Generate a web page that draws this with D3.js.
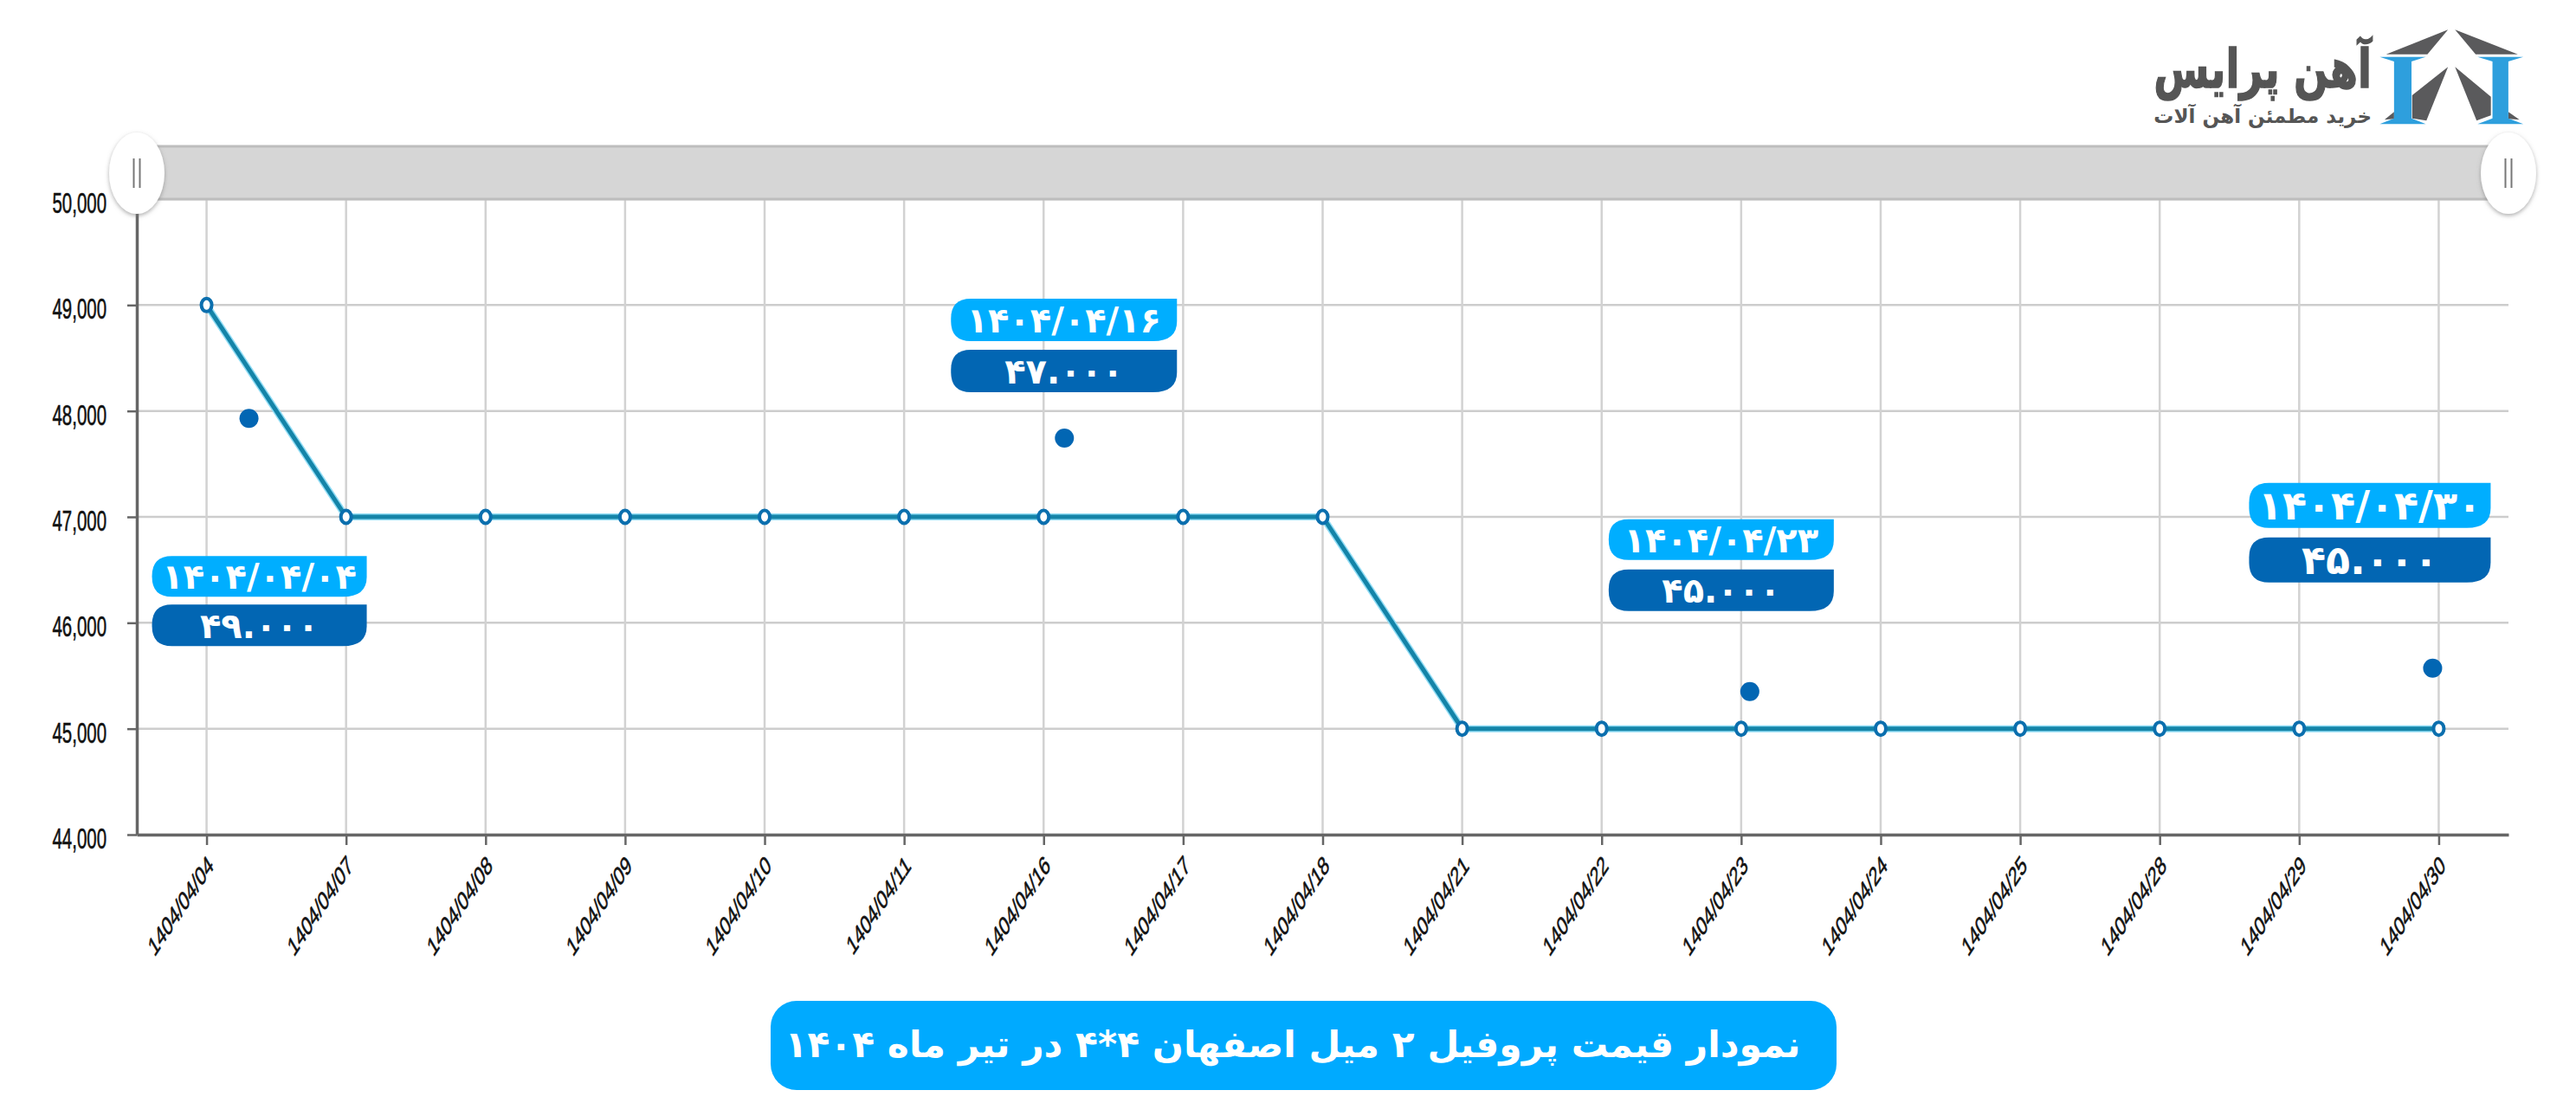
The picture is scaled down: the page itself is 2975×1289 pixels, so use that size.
<!DOCTYPE html>
<html lang="fa">
<head>
<meta charset="utf-8">
<title>Chart</title>
<script src="https://cdn.jsdelivr.net/npm/d3@7"></script>
<style>
html, body { margin: 0; padding: 0; background: #fff; overflow: hidden; }
svg { display: block; }
.tick text { font-family: "Liberation Sans", sans-serif; fill: #111; }
.fa { font-family: "DejaVu Sans", sans-serif; font-weight: bold; }
</style>
</head>
<body>
<div id="chart-area"></div>
<script>
// chart values
const dates = ["1404/04/04", "1404/04/07", "1404/04/08", "1404/04/09", "1404/04/10", "1404/04/11",
    "1404/04/16", "1404/04/17", "1404/04/18", "1404/04/21", "1404/04/22", "1404/04/23",
    "1404/04/24", "1404/04/25", "1404/04/28", "1404/04/29", "1404/04/30"];
const prices = [49000, 47000, 47000, 47000, 47000, 47000, 47000, 47000, 47000,
    45000, 45000, 45000, 45000, 45000, 45000, 45000, 45000];
const yTicks = [44000, 45000, 46000, 47000, 48000, 49000, 50000];

// callouts
const calloutIndex = [0, 6, 11, 16];
const calloutDates = ["۱۴۰۴/۰۴/۰۴", "۱۴۰۴/۰۴/۱۶", "۱۴۰۴/۰۴/۲۳", "۱۴۰۴/۰۴/۳۰"];
const calloutPrices = ["۴۹.۰۰۰", "۴۷.۰۰۰", "۴۵.۰۰۰", "۴۵.۰۰۰"];

const titleText = "نمودار قیمت پروفیل ۲ میل اصفهان ۴*۴ در تیر ماه ۱۴۰۴";
const logoTitle = "آهن پرایس";
const logoSub = "خرید مطمئن آهن آلات";

const W = 2975, H = 1289;
const margin = { left: 158, right: 78, top: 230, bottom: 325 };
const width = W - margin.left - margin.right,
    height = H - margin.top - margin.bottom;
const squeeze = 0.62;   // the axis text in the picture is squashed sideways

const svg = d3.select("#chart-area")
    .append("svg")
    .attr("width", W)
    .attr("height", H);

const g = svg.append("g")
    .attr("transform", "translate(" + margin.left + ", " + margin.top + ")");

const x = d3.scalePoint()
    .domain(dates)
    .range([0, width])
    .padding(0.5);

const y = d3.scaleLinear()
    .domain([44000, 50000])
    .range([height, 0]);

// GRID
g.append("g").selectAll("line")
    .data(yTicks)
    .enter()
    .append("line")
    .attr("x1", 0)
    .attr("x2", width)
    .attr("y1", function (d) { return y(d); })
    .attr("y2", function (d) { return y(d); })
    .attr("stroke", "#cdcdcd")
    .attr("stroke-width", 2.5);

g.append("g").selectAll("line")
    .data(dates)
    .enter()
    .append("line")
    .attr("x1", function (d) { return x(d); })
    .attr("x2", function (d) { return x(d); })
    .attr("y1", 0)
    .attr("y2", height)
    .attr("stroke", "#d2d2d2")
    .attr("stroke-width", 2.5);

// AXES
const yAxisCall = d3.axisLeft(y)
    .tickValues(yTicks)
    .tickSize(11)
    .tickSizeOuter(0)
    .tickFormat(d3.format(","));
const yAxis = g.append("g").call(yAxisCall);
yAxis.selectAll("text")
    .attr("font-size", 33)
    .attr("x", 0)
    .attr("dy", "0.47em")
    .attr("stroke", "#111")
    .attr("stroke-width", 0.6)
    .attr("transform", "translate(-35, 0) scale(" + squeeze + ", 1)");

const xAxisCall = d3.axisBottom(x).tickSize(12).tickSizeOuter(0);
const xAxis = g.append("g")
    .attr("transform", "translate(0, " + height + ")")
    .call(xAxisCall);
xAxis.selectAll("text")
    .attr("font-size", 30.5)
    .attr("x", 0)
    .attr("y", 0)
    .attr("dy", "0.35em")
    .attr("text-anchor", "end")
    .attr("stroke", "#111")
    .attr("stroke-width", 0.7)
    .attr("transform", "translate(4, 30) scale(" + squeeze + ", 1) rotate(-43)");

[yAxis, xAxis].forEach(function (a) {
    a.selectAll("path").attr("stroke", "#666").attr("stroke-width", 3.5);
    a.selectAll("line").attr("stroke", "#666").attr("stroke-width", 2.5);
});

// SLIDER
const defs = svg.append("defs");
const shadow = defs.append("filter").attr("id", "shadow")
    .attr("x", "-30%").attr("y", "-30%").attr("width", "160%").attr("height", "160%");
shadow.append("feDropShadow")
    .attr("dx", 0).attr("dy", 2).attr("stdDeviation", 2.5)
    .attr("flood-color", "#777").attr("flood-opacity", 0.6);

g.append("rect")
    .attr("x", 0)
    .attr("y", -61)
    .attr("width", width)
    .attr("height", 61)
    .attr("fill", "#d6d6d6")
    .attr("stroke", "#bdbdbd")
    .attr("stroke-width", 3);

[0, width].forEach(function (hx) {
    const handle = g.append("g").attr("transform", "translate(" + hx + ", -30)");
    handle.append("ellipse")
        .attr("rx", 32)
        .attr("ry", 47)
        .attr("fill", "#fff")
        .attr("filter", "url(#shadow)");
    [-3.5, 3.5].forEach(function (dx) {
        handle.append("line")
            .attr("x1", dx).attr("x2", dx)
            .attr("y1", -17).attr("y2", 17)
            .attr("stroke", "#777")
            .attr("stroke-width", 2);
    });
});

// LINE
const line = d3.line()
    .x(function (d, i) { return x(dates[i]); })
    .y(function (d) { return y(d); });

g.append("path")
    .datum(prices)
    .attr("d", line)
    .attr("fill", "none")
    .attr("stroke", "#8fdcf5")
    .attr("stroke-width", 8);

g.append("path")
    .datum(prices)
    .attr("d", line)
    .attr("fill", "none")
    .attr("stroke", "#1484a8")
    .attr("stroke-width", 5);

g.selectAll("ellipse.pt")
    .data(prices)
    .enter()
    .append("ellipse")
    .attr("class", "pt")
    .attr("cx", function (d, i) { return x(dates[i]); })
    .attr("cy", function (d) { return y(d); })
    .attr("rx", 6)
    .attr("ry", 7.5)
    .attr("fill", "#fff")
    .attr("stroke", "#0b6fae")
    .attr("stroke-width", 4);

// CALLOUTS, placed relative to the point they belong to
const calloutLayout = [
    { box: [-63, 290, 248, 47, 56, 48], dot: [49, 131], fs: 40 },
    { box: [-107, -252, 261, 49, 59, 49], dot: [24, -91], fs: 40 },
    { box: [-153, -242, 260, 47, 58, 48], dot: [10, -43], fs: 40 },
    { box: [-219, -284, 279, 52, 63, 52], dot: [-7, -70], fs: 46 }
];

function boxPath(bx, by, w, h, r) {
    return "M" + (bx + r) + "," + by + "H" + (bx + w) + "V" + (by + h - r)
        + "Q" + (bx + w) + "," + (by + h) + " " + (bx + w - r * 1.2) + "," + (by + h)
        + "H" + (bx + r) + "Q" + bx + "," + (by + h) + " " + bx + "," + (by + h - r)
        + "V" + (by + r) + "Q" + bx + "," + by + " " + (bx + r) + "," + by + "Z";
}

calloutIndex.forEach(function (idx, i) {
    const px = x(dates[idx]), py = y(prices[idx]);
    const l = calloutLayout[i], b = l.box;
    const c = g.append("g");

    c.append("circle")
        .attr("cx", px + l.dot[0])
        .attr("cy", py + l.dot[1])
        .attr("r", 11)
        .attr("fill", "#0266b3");

    c.append("path")
        .attr("d", boxPath(px + b[0], py + b[1], b[2], b[3], 23))
        .attr("fill", "#00aeff");
    c.append("path")
        .attr("d", boxPath(px + b[0], py + b[1] + b[4], b[2], b[5], 23))
        .attr("fill", "#0266b3");

    c.append("text")
        .attr("class", "fa")
        .attr("x", px + b[0] + b[2] / 2)
        .attr("y", py + b[1] + b[3] / 2)
        .attr("dy", "0.36em")
        .attr("text-anchor", "middle")
        .attr("font-size", l.fs)
        .attr("fill", "#fff")
        .attr("direction", "ltr")
        .text(calloutDates[i]);
    c.append("text")
        .attr("class", "fa")
        .attr("x", px + b[0] + b[2] / 2)
        .attr("y", py + b[1] + b[4] + b[5] / 2)
        .attr("dy", "0.36em")
        .attr("text-anchor", "middle")
        .attr("font-size", l.fs)
        .attr("fill", "#fff")
        .attr("direction", "ltr")
        .text(calloutPrices[i]);
});

// TITLE
svg.append("rect")
    .attr("x", 890)
    .attr("y", 1156)
    .attr("width", 1231)
    .attr("height", 103)
    .attr("rx", 30)
    .attr("fill", "#00aaff");

svg.append("text")
    .attr("class", "fa")
    .attr("x", 1493)
    .attr("y", 1206)
    .attr("dy", "0.36em")
    .attr("text-anchor", "middle")
    .attr("direction", "rtl")
    .attr("font-size", 42.4)
    .attr("fill", "#fff")
    .text(titleText);

// LOGO
const logo = svg.append("g")
    .attr("transform", "translate(2400, 0) scale(0.3667, 0.3333)");
["M970,188 L1165,103 L1100,188 Z", "M1187,103 L1385,188 L1252,188 Z",
    "M1165,232 L1097,418 L1052,410 L1052,330 Z", "M1187,232 L1300,335 L1300,400 L1255,418 Z",
    "M965,415 L995,388 L995,412 Z", "M1390,415 L1355,388 L1355,412 Z"].forEach(function (d) {
    logo.append("path").attr("d", d).attr("fill", "#5a5a5c");
});
["M950,197 H1095 L1050,213 V410 L1095,430 H950 L995,410 V213 Z",
    "M1258,197 H1402 L1355,213 V410 L1402,430 H1258 L1305,410 V213 Z"].forEach(function (d) {
    logo.append("path").attr("d", d).attr("fill", "#2e9fdd");
});

// rtl text: start is the right edge
svg.append("text")
    .attr("class", "fa")
    .attr("text-anchor", "start")
    .attr("direction", "rtl")
    .attr("font-size", 62)
    .attr("fill", "#555")
    .attr("stroke", "#555")
    .attr("stroke-width", 1.5)
    .attr("transform", "translate(2739, 101) scale(0.75, 1)")
    .text(logoTitle);

svg.append("text")
    .attr("class", "fa")
    .attr("x", 2739)
    .attr("y", 142)
    .attr("text-anchor", "start")
    .attr("direction", "rtl")
    .attr("font-size", 23)
    .attr("fill", "#555")
    .text(logoSub);
</script>
</body>
</html>
